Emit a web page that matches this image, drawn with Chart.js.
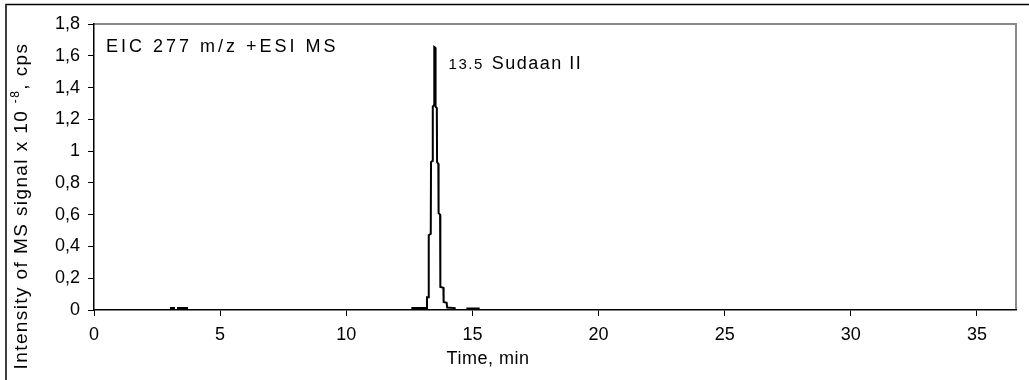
<!DOCTYPE html>
<html>
<head>
<meta charset="utf-8">
<script src="https://cdn.jsdelivr.net/npm/chart.js@4/dist/chart.umd.min.js"></script>
<style>
  html, body { margin: 0; padding: 0; background: #fff; }
  #wrap { width: 1029px; height: 380px; position: relative; }
</style>
</head>
<body>
<div id="wrap"><canvas id="grafico" width="1029" height="380"></canvas></div>
<script>
const tempoMin = [0, 3.05, 3.05, 3.17, 3.17, 3.33, 3.33, 3.69, 3.69,
    12.62, 12.62, 13.18, 13.20, 13.20, 13.26, 13.27, 13.35, 13.36, 13.42, 13.43,
    13.48, 13.49, 13.53, 13.54, 13.59, 13.60, 13.65, 13.66, 13.72, 13.73,
    13.85, 13.86, 13.98, 14.00, 14.30, 14.30, 14.80, 14.80, 15.25, 15.25, 36.55];
const sinal = [0, 0, 0.012, 0.012, 0, 0, 0.012, 0.012, 0,
    0, 0.012, 0.012, 0.02, 0.08, 0.08, 0.47, 0.48, 0.93, 0.94, 1.28,
    1.29, 1.655, 1.65, 1.28, 1.27, 0.93, 0.92, 0.61, 0.60, 0.145,
    0.14, 0.05, 0.045, 0.015, 0.012, 0, 0, 0.01, 0.01, 0, 0];

const xTicks = [0, 5, 10, 15, 20, 25, 30, 35];
const yTicks = [0, 0.2, 0.4, 0.6, 0.8, 1, 1.2, 1.4, 1.6, 1.8];
const yTickLabels = ['0', '0,2', '0,4', '0,6', '0,8', '1', '1,2', '1,4', '1,6', '1,8'];

const FONTE = "'Liberation Sans', Arial, sans-serif";

// ── Textos e moldura desenhados à mão ───────────────────────────
const extras = {
    id: 'extras',
    beforeDraw(chart) {
        const ctx = chart.ctx;
        const a = chart.chartArea;
        ctx.save();
        // moldura externa (só esquerda e topo visíveis)
        ctx.strokeStyle = '#000';
        ctx.lineWidth = 1.5;
        ctx.beginPath();
        ctx.moveTo(6, 380);
        ctx.lineTo(6, 4.5);
        ctx.lineTo(1029, 4.5);
        ctx.stroke();
        // caixa cinza da área do gráfico
        ctx.strokeStyle = '#888';
        ctx.lineWidth = 2;
        ctx.beginPath();
        ctx.moveTo(a.left, a.top);
        ctx.lineTo(a.right, a.top);
        ctx.lineTo(a.right, a.bottom);
        ctx.stroke();
        ctx.restore();
    },
    afterDraw(chart) {
        const ctx = chart.ctx;
        const a = chart.chartArea;
        const sx = chart.scales.x, sy = chart.scales.y;
        ctx.save();
        ctx.fillStyle = '#000';
        ctx.textBaseline = 'alphabetic';
        ctx.textAlign = 'left';

        ctx.font = '18px ' + FONTE;
        ctx.letterSpacing = '3px';
        ctx.fillText('EIC 277 m/z +ESI MS', a.left + 12, a.top + 28);

        // rótulo do pico
        const px = sx.getPixelForValue(13.5) + 14;
        const py = sy.getPixelForValue(1.515);
        ctx.font = '15px ' + FONTE;
        ctx.letterSpacing = '1.5px';
        ctx.fillText('13.5', px, py);
        const w135 = ctx.measureText('13.5').width;
        ctx.font = '18px ' + FONTE;
        ctx.letterSpacing = '1.5px';
        ctx.fillText('Sudaan II', px + w135 + 8, py);

        // título do eixo X
        ctx.font = '18px ' + FONTE;
        ctx.letterSpacing = '0.5px';
        ctx.textAlign = 'center';
        ctx.fillText('Time, min', 488, 364);

        // título do eixo Y com expoente
        const p1 = 'Intensity of MS signal x 10 ', sup = '-8', p2 = ', cps';
        ctx.letterSpacing = '1.4px';
        ctx.font = '19px ' + FONTE;
        const w1 = ctx.measureText(p1).width, w3 = ctx.measureText(p2).width;
        ctx.font = '12px ' + FONTE;
        const w2 = ctx.measureText(sup).width;
        const total = w1 + w2 + w3;
        ctx.translate(27, 206);
        ctx.rotate(-Math.PI / 2);
        ctx.textAlign = 'left';
        let x0 = -total / 2;
        ctx.font = '19px ' + FONTE;
        ctx.fillText(p1, x0, 0);
        ctx.font = '12px ' + FONTE;
        ctx.fillText(sup, x0 + w1, -8);
        ctx.font = '19px ' + FONTE;
        ctx.fillText(p2, x0 + w1 + w2, 0);
        ctx.restore();
        ctx.letterSpacing = '0px';
    }
};

const ctx = document.getElementById('grafico').getContext('2d');
new Chart(ctx, {
    type: 'scatter',
    data: {
        datasets: [{
            data: tempoMin.map((t, i) => ({ x: t, y: sinal[i] })),
            showLine: true,
            borderColor: '#000',
            borderWidth: 2,
            pointRadius: 0,
            tension: 0
        }]
    },
    options: {
        responsive: false,
        devicePixelRatio: 1,
        animation: false,
        layout: { padding: { top: 24, right: 13, left: 0, bottom: 0 } },
        plugins: { legend: { display: false }, tooltip: { enabled: false } },
        scales: {
            x: {
                type: 'linear',
                min: 0,
                max: 36.55,
                afterBuildTicks: s => { s.ticks = xTicks.map(v => ({ value: v })); },
                afterFit: s => { s.height = 70; },
                ticks: { color: '#000', font: { family: FONTE, size: 18 }, padding: 8, maxRotation: 0 },
                grid: { drawOnChartArea: false, drawTicks: true, tickLength: 6, color: '#000' },
                border: { color: '#000', width: 1.5 }
            },
            y: {
                min: 0,
                max: 1.8,
                afterBuildTicks: s => { s.ticks = yTicks.map(v => ({ value: v })); },
                afterFit: s => { s.width = 94; },
                ticks: {
                    color: '#000', font: { family: FONTE, size: 18 }, padding: 8,
                    callback: (v) => yTickLabels[yTicks.findIndex(t => Math.abs(t - v) < 1e-6)]
                },
                grid: { drawOnChartArea: false, drawTicks: true, tickLength: 6, color: '#000' },
                border: { color: '#000', width: 1.5 }
            }
        }
    },
    plugins: [extras]
});
</script>
</body>
</html>
